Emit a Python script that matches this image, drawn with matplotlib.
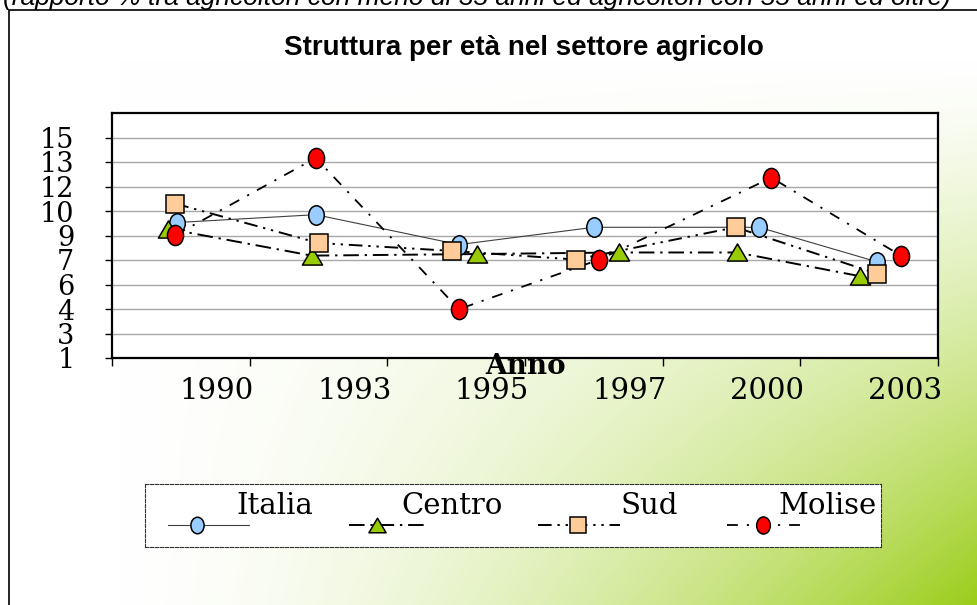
import numpy as np
import matplotlib.pyplot as plt
from matplotlib.path import Path
from matplotlib.transforms import Affine2D
from matplotlib.lines import Line2D

# dati
anni = ['1990', '1993', '1995', '1997', '2000', '2003']
serie = ['Italia', 'Centro', 'Sud', 'Molise']

# posizione dei punti dentro la categoria di ogni anno (0 = inizio 1990)
italia_x = [0.47, 1.48, 2.52, 3.50, 4.70, 5.56]
centro_x = [0.41, 1.45, 2.65, 3.68, 4.54, 5.43]
sud_x = [0.46, 1.50, 2.47, 3.37, 4.53, 5.56]
molise_x = [0.46, 1.48, 2.52, 3.54, 4.79, 5.73]

italia = [9.6, 10.1, 8.2, 9.3, 9.3, 7.1]
centro = [9.2, 7.5, 7.6, 7.7, 7.7, 6.2]
sud = [10.8, 8.3, 7.8, 7.25, 9.3, 6.35]
molise = [8.8, 13.7, 4.1, 7.25, 12.45, 7.5]

W, H = 978, 605
fig = plt.figure(figsize=(W / 100, H / 100), dpi=100)

# sfondo sfumato bianco -> verde (angolo in basso a destra)
u = np.linspace(0, 1, W)[None, :]
v = np.linspace(0, 1, H)[:, None]
w = np.clip((u - 0.12) / 0.88, 0, 1) ** 1.6 * np.clip((v - 0.1) / 0.9, 0, 1) ** 1.3
verde = np.array([155, 205, 25]) / 255
img = (1 - w[..., None]) + w[..., None] * verde
bg = fig.add_axes([0, 0, 1, 1], zorder=-5)
bg.imshow(img, extent=(0, W, H, 0), aspect='auto', interpolation='bilinear')
bg.set_xlim(0, W)
bg.set_ylim(H, 0)
bg.axis('off')
# cornice esterna
bg.plot([9, 9, W + 5], [H + 5, 10, 10], color='black', lw=1.2, clip_on=False)

# testo in alto, tagliato dal bordo come nell'originale
fig.text(3 / W, 1 - 5.5 / H,
         '(rapporto % tra agricoltori con meno di 35 anni ed agricoltori con 55 anni ed oltre)',
         family='Liberation Sans', style='italic', fontsize=19, va='baseline', ha='left')

fig.text(524 / W, 1 - 55 / H, 'Struttura per età nel settore agricolo',
         family='Liberation Sans', weight='bold', fontsize=20, ha='center', va='baseline')

ellisse = Path.unit_circle().transformed(Affine2D().scale(0.8, 1.0))
triangolo = Path([(-1, -0.85), (1, -0.85), (0, 0.85), (-1, -0.85)],
                 [Path.MOVETO, Path.LINETO, Path.LINETO, Path.CLOSEPOLY])

stili = {
    'Italia': dict(color='#404040', lw=0.8, ls='-', marker=ellisse, mfc='#99CCFF', ms=14),
    'Centro': dict(color='black', lw=1.4, ls=(0, (8, 3, 1.2, 3)), marker=triangolo, mfc='#99CC00', ms=14.5),
    'Sud': dict(color='black', lw=1.4, ls=(0, (7, 3, 1.2, 3, 1.2, 3)), marker='s', mfc='#FFCC99', ms=13.5),
    'Molise': dict(color='black', lw=1.3, ls=(0, (6, 5, 1.2, 5)), marker=ellisse, mfc='#FF0000', ms=14.5),
}
xs = {'Italia': italia_x, 'Centro': centro_x, 'Sud': sud_x, 'Molise': molise_x}
ys = {'Italia': italia, 'Centro': centro, 'Sud': sud, 'Molise': molise}

ax = fig.add_axes([112 / W, 1 - 358 / H, (938 - 112) / W, (358 - 113) / H])
ax.set_facecolor('white')

for s in serie:
    st = stili[s]
    ax.plot(xs[s], ys[s], color=st['color'], lw=st['lw'], ls=st['ls'], zorder=2)
for i, s in enumerate(serie):
    st = stili[s]
    ax.plot(xs[s], ys[s], ls='none', marker=st['marker'], ms=st['ms'],
            mfc=st['mfc'], mec='black', mew=1.1, zorder=3 + i)

yt = np.linspace(1, 15, 10)
ax.set_ylim(1, 15 + 14 / 9)
ax.set_yticks(yt)
ax.set_yticklabels([f'{t:.0f}' for t in yt], family='DejaVu Serif', fontsize=19.5)
ax.yaxis.grid(True, color='#a8a8a8', lw=1.0)
ax.tick_params(axis='y', length=5, width=1, pad=22)

ax.set_xlim(0, len(anni))
ax.set_xticks(np.arange(len(anni) + 1))
ax.set_xticklabels([])
ax.set_xticks(np.arange(len(anni)) + 0.76, minor=True)
ax.set_xticklabels(anni, minor=True, family='DejaVu Serif', fontsize=21)
ax.tick_params(axis='x', which='major', length=6, width=1)
ax.tick_params(axis='x', which='minor', length=0, pad=14)
for sp in ax.spines.values():
    sp.set_linewidth(1.6)
ax.set_axisbelow(True)

fig.text(526 / W, 1 - 367 / H, 'Anno', family='DejaVu Serif', weight='bold',
         fontsize=20, ha='center', va='center')

# legenda disegnata a mano: testo sopra il campione
lax = fig.add_axes([145 / W, 1 - 547 / H, (881 - 145) / W, (547 - 484) / H])
lax.set_facecolor('white')
lax.set_xlim(145, 881)
lax.set_ylim(547, 484)
lax.set_xticks([])
lax.set_yticks([])
for sp in lax.spines.values():
    sp.set_linestyle((0, (3, 1.5)))
    sp.set_linewidth(0.8)
    sp.set_color('#333333')

campioni = [(168, 249, 197, 236), (349, 428, 377, 401), (538, 620, 578, 621), (727, 809, 763, 779)]
for s, (x0, x1, xm, xt) in zip(serie, campioni):
    st = stili[s]
    lax.add_line(Line2D([x0, x1], [525, 525], color=st['color'], lw=st['lw'], ls=st['ls']))
    lax.plot([xm], [525], ls='none', marker=st['marker'], ms=st['ms'] * 0.85,
             mfc=st['mfc'], mec='black', mew=1.1)
    lax.text(xt, 514, s, family='DejaVu Serif', fontsize=21, ha='left', va='baseline')

fig.savefig('out.png', dpi=100)
